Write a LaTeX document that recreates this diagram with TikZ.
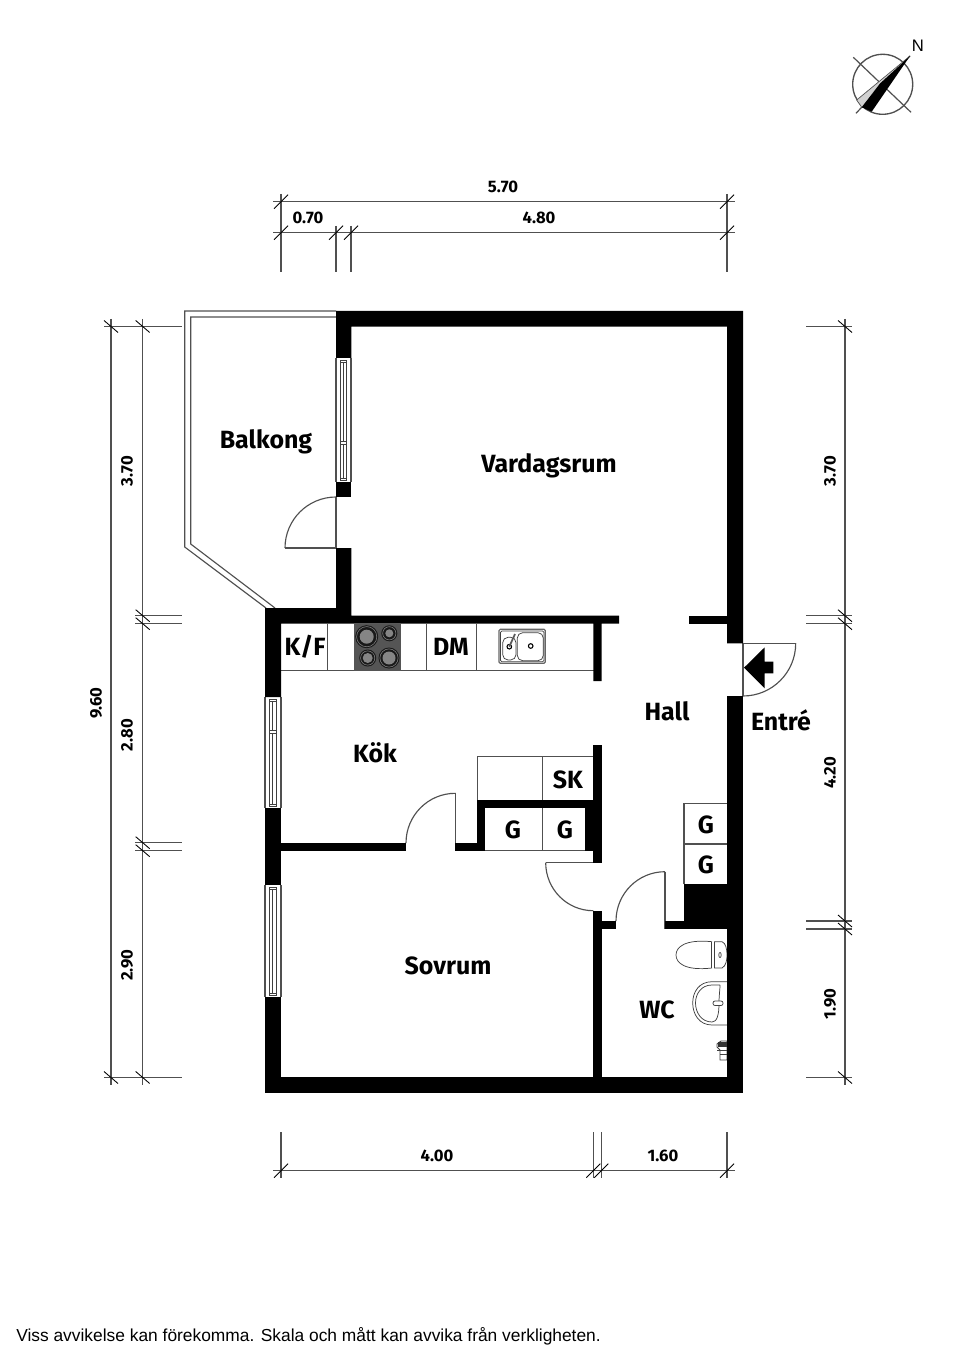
\documentclass[tikz,border=0pt]{standalone}
\usepackage{fontspec}
\setmainfont{Fira Sans}[UprightFont={* Bold},BoldFont={* Bold}]
\newfontfamily\arialfont{Liberation Sans}
\usetikzlibrary{calc}
\definecolor{linegray}{HTML}{505050}
\definecolor{cookgray}{HTML}{555555}
\definecolor{burngray}{HTML}{858585}
\tikzset{
  x=0.75pt,y=-0.75pt,
  wall/.style={fill=black,draw=none},
  thinline/.style={draw=linegray,line width=0.85pt},
  fine/.style={draw=black!75,line width=0.55pt},
  dimline/.style={draw=linegray,line width=0.95pt},
  tickline/.style={draw=black,line width=0.65pt},
  room/.style={font=\fontsize{18.7pt}{22pt}\selectfont,inner sep=0pt},
  dimtext/.style={font=\fontsize{12.5pt}{14pt}\selectfont,inner sep=0pt},
}
\newcommand{\tkm}[2]{\draw[tickline] (#1-7,#2+7) -- (#1+7,#2-7);}
\newcommand{\tkv}[2]{\draw[tickline] (#1-7,#2-6) -- (#1+7,#2+6);}
% door swing: from a to b bulging towards corner c
\newcommand{\swing}[3]{\draw[thinline] (#1) .. controls ($(#1)!.5523!(#3)$) and ($(#2)!.5523!(#3)$) .. (#2);}
% vertical window: x left, x right, y top, y bottom
\newcommand{\vwin}[4]{%
  \draw[thinline] (#1,#3) -- (#1,#4) (#2,#3) -- (#2,#4);
  \draw[fine] (#1+4.3,#3+2) rectangle (#2-4.3,#4-1.5);
  \draw[fine] (#1+7.8,#3+4.5) -- (#1+7.8,#4-4);
  \draw[fine] (#1+4.3,#3+4.5) -- (#2-4.3,#3+4.5) (#1+4.3,#4-4) -- (#2-4.3,#4-4);
}
% crossbar of a window
\newcommand{\wbar}[3]{\fill[white] (#1+4.6,#3-1.7) rectangle (#2-4.6,#3+1.7);
  \draw[fine] (#1+4.3,#3-1.7) -- (#2-4.3,#3-1.7) (#1+4.3,#3+1.7) -- (#2-4.3,#3+1.7);}
\begin{document}
\begin{tikzpicture}
\useasboundingbox (0,0) rectangle (960,1358);
\fill[white] (0,0) rectangle (960,1358);

% compass
\draw[draw=linegray,line width=1pt] (882.7,84.3) circle[radius=30];
\draw[draw=linegray,line width=0.9pt] (853.3,57.3) -- (911,112.3) (856,113.3) -- (910,56);
\fill[black!18] (910,56) -- (856.7,100) -- (861.7,107.3) -- (880,83.3) -- cycle;
\draw[draw=linegray,line width=0.5pt] (910,56) -- (856.7,100) -- (861.7,107.3);
\fill[black] (910,56) -- (880,83.5) -- (861.7,107.3) -- (871.7,111.7) -- cycle;
\node[inner sep=0pt,font=\arialfont\fontsize{12.5pt}{14pt}\selectfont] (north) at (918,45.5) {N};

% top dims
\draw[dimline] (273,201.7) -- (735,201.7);
\draw[dimline] (273,232.7) -- (735,232.7);
\draw[dimline] (281,194) -- (281,271.7) (727,194) -- (727,271.7);
\draw[dimline] (336,226) -- (336,271.7) (351,226) -- (351,271.7);
\tkm{281}{201.7}\tkm{727}{201.7}
\tkm{281}{232.7}\tkm{336}{232.7}\tkm{351}{232.7}\tkm{727}{232.7}
\node[dimtext] (d570) at (503,187) {5.70};
\node[dimtext] (d480) at (539,218) {4.80};
\node[dimtext] (d070) at (308,218) {0.70};

% left dims
\draw[dimline] (111,319) -- (111,1085) (142.7,319) -- (142.7,1085);
\draw[dimline] (104,326.5) -- (181.7,326.5) (104,1077.5) -- (181.7,1077.5);
\draw[dimline] (135,615.7) -- (181.7,615.7) (135,623.7) -- (181.7,623.7);
\draw[dimline] (135,842.7) -- (181.7,842.7) (135,850.7) -- (181.7,850.7);
\tkv{111}{326.5}\tkv{142.7}{326.5}\tkv{111}{1077.5}\tkv{142.7}{1077.5}
\tkv{142.7}{615.7}\tkv{142.7}{623.7}\tkv{142.7}{842.7}\tkv{142.7}{850.7}
\node[dimtext,rotate=90] (l960) at (96,703) {9.60};
\node[dimtext,rotate=90] (l370) at (127,471) {3.70};
\node[dimtext,rotate=90] (l280) at (127,735) {2.80};
\node[dimtext,rotate=90] (l290) at (127,965) {2.90};

% right dims
\draw[dimline] (845,319) -- (845,1085);
\draw[dimline] (806,326.5) -- (852,326.5) (806,1077.5) -- (852,1077.5);
\draw[dimline] (806,615.7) -- (852,615.7) (806,623.7) -- (852,623.7);
\draw[dimline] (806,921) -- (852,921) (806,929) -- (852,929);
\tkv{845}{326.5}\tkv{845}{615.7}\tkv{845}{623.7}\tkv{845}{921}\tkv{845}{929}\tkv{845}{1077.5}
\node[dimtext,rotate=90] (r370) at (830,471) {3.70};
\node[dimtext,rotate=90] (r420) at (830,773) {4.20};
\node[dimtext,rotate=90] (r190) at (830,1004) {1.90};

% bottom dims
\draw[dimline] (273,1170.7) -- (735,1170.7);
\draw[dimline] (281,1132) -- (281,1178) (593.3,1132) -- (593.3,1178) (601.3,1132) -- (601.3,1178) (727,1132) -- (727,1178);
\tkm{281}{1170.7}\tkm{593.3}{1170.7}\tkm{601.3}{1170.7}\tkm{727}{1170.7}
\node[dimtext] (b400) at (437,1156) {4.00};
\node[dimtext] (b160) at (663,1156) {1.60};

% balcony
\draw[thinline] (336,311) -- (184.7,311) -- (184.7,547) -- (266,608);
\draw[thinline] (336,317) -- (190.7,317) -- (190.7,544) -- (275,608);

% windows
\vwin{336}{351}{358}{482}
\wbar{336}{351}{443}
\vwin{265}{281}{697}{808}
\wbar{265}{281}{731.7}
\vwin{265}{281}{885}{997}

% doors
\draw[thinline] (336,497) -- (336,548) -- (285,548);
\swing{285,548}{336,497}{285,497}
\draw[thinline] (455.3,850.7) -- (455.3,793.3);
\swing{406,843}{455.3,793.3}{406,793.3}
\draw[thinline] (593.3,862.7) -- (545.7,862.7);
\swing{545.7,862.7}{593.3,910.7}{545.7,910.7}
\draw[thinline] (665,929) -- (665,871.7);
\swing{616,921}{665,871.7}{616,871.7}
\draw[thinline] (743,696) -- (743,643.3) -- (795.7,643.3);
\swing{795.7,643.3}{743,696}{795.7,696}
\fill[black] (744,667.7) -- (764.7,647.3) -- (764.7,661.7) -- (773.3,661.7) -- (773.3,673.3) -- (764.7,673.3) -- (764.7,688.3) -- cycle;

% kitchen counter
\draw[thinline] (281,670.5) -- (594,670.5);
\draw[thinline] (327.7,624) -- (327.7,670.5) (426.7,624) -- (426.7,670.5) (476.7,624) -- (476.7,670.5);
\fill[cookgray] (353.7,624) rectangle (400.7,670.5);
\foreach \cx/\cy/\ra/\rb in {366.7/636.7/11.5/7, 389.3/633.3/8/4, 367.7/658/8.5/5, 389/658/10.5/6.5}{
  \fill[black!90] (\cx,\cy) circle[radius=\ra];
  \draw[burngray,line width=0.4pt] (\cx,\cy) circle[radius=\ra-1.4];
  \fill[burngray] (\cx,\cy) circle[radius=\rb];
}
% sink
\draw[draw=black!60,line width=0.9pt,rounded corners=1pt] (499,629.3) rectangle (545.3,663.3);
\draw[fine,rounded corners=1pt] (500.5,631) rectangle (544,661.8);
\draw[fine,rounded corners=4pt] (502.7,637.3) rectangle (516,660);
\draw[fine,rounded corners=4pt] (517.3,632.7) rectangle (543.3,660.7);
\draw[black,line width=0.8pt] (509.3,646.7) circle[radius=2.3];
\draw[black,line width=0.8pt] (530.7,646) circle[radius=2.3];
\draw[black!65,line width=1.3pt] (509.3,646.7) -- (515,634);

% closets
\draw[thinline] (477.3,800) -- (477.3,756.7) -- (593.3,756.7);
\draw[thinline] (542.3,756.7) -- (542.3,800);
\draw[thinline] (485.3,850.7) -- (593.3,850.7);
\draw[thinline] (542.3,808) -- (542.3,850.7);
\draw[thinline] (684,884.3) -- (684,803.3) -- (727,803.3);
\draw[thinline] (684,844) -- (727,844) (684,884.3) -- (727,884.3);

% WC fixtures
\draw[fine] (712,941.7) .. controls (685,939) and (676,947) .. (676,955) .. controls (676,963) and (685,971) .. (712,968);
\draw[fine] (711.7,941.7) -- (711.7,968) (714,941.7) -- (714,968);
\draw[fine] (714,941.7) -- (722,941.7) .. controls (726,943) and (727,950) .. (727,955) .. controls (727,960) and (726,966) .. (722,968) -- (714,968);
\draw[fine] (720,955) ellipse[x radius=1.2,y radius=2.5];
\draw[fine] (727,981.7) -- (712,981.7) .. controls (699,981.7) and (692.7,992) .. (692.7,1003) .. controls (692.7,1014) and (699,1025) .. (712,1025) -- (727,1025);
\draw[fine] (720,985) -- (712,985) .. controls (701,985) and (695.5,994) .. (695.5,1003) .. controls (695.5,1012) and (701,1022) .. (712,1022) .. controls (717,1022) and (719,1015) .. (719,1003) .. controls (719,995) and (720,990) .. (720,985);
\draw[fine,fill=white,rounded corners=1.5pt] (713,1001) rectangle (723,1005.5);
\draw[black!75,line width=0.7pt,fill=white] (717,1044) -- (721,1041) -- (727,1041) -- (727,1060) -- (720,1060) -- (720,1050) -- (717,1047) -- cycle;
\fill[black!80] (718,1042) rectangle (727,1047);
\draw[fine] (717,1050) -- (727,1050) (720,1054) -- (727,1054);

% walls
\fill[wall] (336,311) -- (743,311) -- (743,643.3) -- (727,643.3) -- (727,326.7) -- (351.3,326.7) -- (351.3,358) -- (336,358) -- cycle;
\fill[wall] (336,482) rectangle (351.3,497);
\fill[wall] (336,548) -- (351.3,548) -- (351.3,615.7) -- (619,615.7) -- (619,623.7) -- (601.7,623.7) -- (601.7,681) -- (593.3,681) -- (593.3,623.7) -- (281,623.7) -- (281,697) -- (265,697) -- (265,608) -- (336,608) -- cycle;
\fill[wall] (689,615.7) rectangle (727,623.7);
\fill[wall] (727,696) rectangle (743,1093);
\fill[wall] (265,1077) rectangle (743,1093);
\fill[wall] (265,808) rectangle (281,885);
\fill[wall] (265,997) rectangle (281,1093);
\fill[wall] (281,842.7) rectangle (406,850.7);
\fill[wall] (455.3,842.7) rectangle (485.3,850.7);
\fill[wall] (477.3,800) rectangle (485.3,850.7);
\fill[wall] (477.3,800) rectangle (593.3,808);
\fill[wall] (585.3,800) rectangle (601.7,850.7);
\fill[wall] (593.3,744.7) rectangle (601.7,862.7);
\fill[wall] (593.3,910.7) rectangle (601.7,1077);
\fill[wall] (601.7,921) rectangle (616,929);
\fill[wall] (665,921) rectangle (727,929);
\fill[wall] (684,884.3) rectangle (727,929);

% room labels
\node[room] (balkong) at (266,442) {Balkong};
\node[room] (vardag) at (549,466) {Vardagsrum};
\node[room] (kf) at (305,647) {K/F};
\node[room] (dm) at (451,647) {DM};
\node[room] (kok) at (375,752.5) {Kök};
\node[room] (hall) at (667,711) {Hall};
\node[room] (entre) at (781,720.5) {Entré};
\node[room] (sk) at (568,780) {SK};
\node[room] (g1) at (513,830) {G};
\node[room] (g2) at (565,830) {G};
\node[room] (g3) at (706,825) {G};
\node[room] (g4) at (706,865) {G};
\node[room] (sovrum) at (448,966) {Sovrum};
\node[room] (wc) at (657,1010) {WC};

\node[inner sep=0pt,anchor=west,font=\arialfont\fontsize{13.03pt}{15pt}\selectfont] (note) at (16,1336) {Viss avvikelse kan förekomma. Skala och mått kan avvika från verkligheten.};
\end{tikzpicture}
\end{document}
